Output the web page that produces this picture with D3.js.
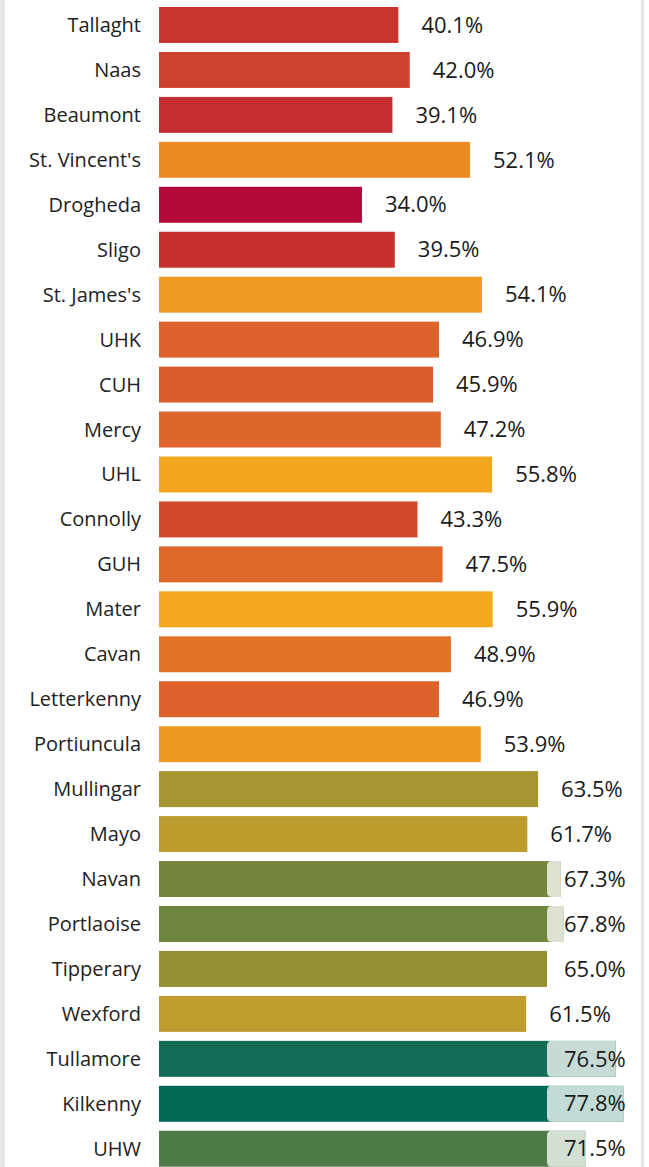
<!DOCTYPE html>
<meta charset="utf-8">
<style>
body { margin: 0; background: #fff; }
svg { display: block; font-family: "Segoe UI", "Open Sans", "Noto Sans", sans-serif; }
.cat { font-size: 20px; fill: #222; }
.val { font-size: 22px; fill: #1a1a1a; }
</style>
<svg width="649" height="1167"></svg>
<script src="https://cdn.jsdelivr.net/npm/d3@7"></script>
<script>

var hospitals = ["Tallaght", "Naas", "Beaumont", "St. Vincent's", "Drogheda", "Sligo",
  "St. James's", "UHK", "CUH", "Mercy", "UHL", "Connolly", "GUH", "Mater", "Cavan",
  "Letterkenny", "Portiuncula", "Mullingar", "Mayo", "Navan", "Portlaoise", "Tipperary",
  "Wexford", "Tullamore", "Kilkenny", "UHW"];
var values = [40.1, 42.0, 39.1, 52.1, 34.0, 39.5, 54.1, 46.9, 45.9, 47.2, 55.8, 43.3,
  47.5, 55.9, 48.9, 46.9, 53.9, 63.5, 61.7, 67.3, 67.8, 65.0, 61.5, 76.5, 77.8, 71.5];

// colour stops along the value axis
var colorStops = [34, 40, 47, 56, 62, 65, 67.5, 72, 76.5, 78];
var colorRange = ["#b30a3a", "#c8342f", "#dd632b", "#f4a91f", "#b99b2e", "#938f33",
  "#72853d", "#4a7a48", "#116b55", "#006856"];

var svg = d3.select("svg"),
    width = +svg.attr("width"),
    height = +svg.attr("height");

// frame
svg.append("rect").attr("x", 0).attr("y", 0).attr("width", 5).attr("height", height).attr("fill", "#e6e6e6");
svg.append("rect").attr("x", 641).attr("y", 0).attr("width", 3).attr("height", height).attr("fill", "#e6e6e6");

var step = 44.95;
var x = d3.scaleLinear().domain([0, 100]).range([159, 159 + 597]);
var y = d3.scaleBand().domain(hospitals)
    .range([7 - 0.1 * step, 7 - 0.1 * step + step * hospitals.length])
    .paddingInner(0.2).paddingOuter(0.1);
var color = d3.scaleLinear().domain(colorStops).range(colorRange).clamp(true);

var data = hospitals.map(function(h, i) { return { name: h, value: values[i] }; });

var row = svg.append("g").selectAll("g")
  .data(data)
  .enter().append("g")
    .attr("transform", function(d) { return "translate(0," + y(d.name) + ")"; });

row.append("text")
    .attr("class", "cat")
    .attr("x", 141)
    .attr("y", y.bandwidth() / 2)
    .attr("dy", "0.35em")
    .attr("text-anchor", "end")
    .text(function(d) { return d.name; });

row.append("rect")
    .attr("x", x(0))
    .attr("width", function(d) { return x(d.value) - x(0); })
    .attr("height", y.bandwidth())
    .attr("fill", function(d) { return color(d.value); });

var labelMax = 564;
function labelX(d) { return Math.min(x(d.value) + 23, labelMax); }

// light box where the label sits on top of the bar
row.filter(function(d) { return x(d.value) > labelX(d) - 17; })
  .append("path")
    .attr("fill", "#fff")
    .attr("fill-opacity", 0.76)
    .attr("d", function(d) {
      var x0 = labelX(d) - 17, x1 = x(d.value), h = y.bandwidth(), r = 5;
      return "M" + (x0 + r) + ",0H" + x1 + "V" + h + "H" + (x0 + r) +
        "Q" + x0 + "," + h + " " + x0 + "," + (h - r) + "V" + r +
        "Q" + x0 + ",0 " + (x0 + r) + ",0Z";
    });

row.append("text")
    .attr("class", "val")
    .attr("x", labelX)
    .attr("y", y.bandwidth() / 2)
    .attr("dy", "0.35em")
    .text(function(d) { return d.value.toFixed(1) + "%"; });

</script>
